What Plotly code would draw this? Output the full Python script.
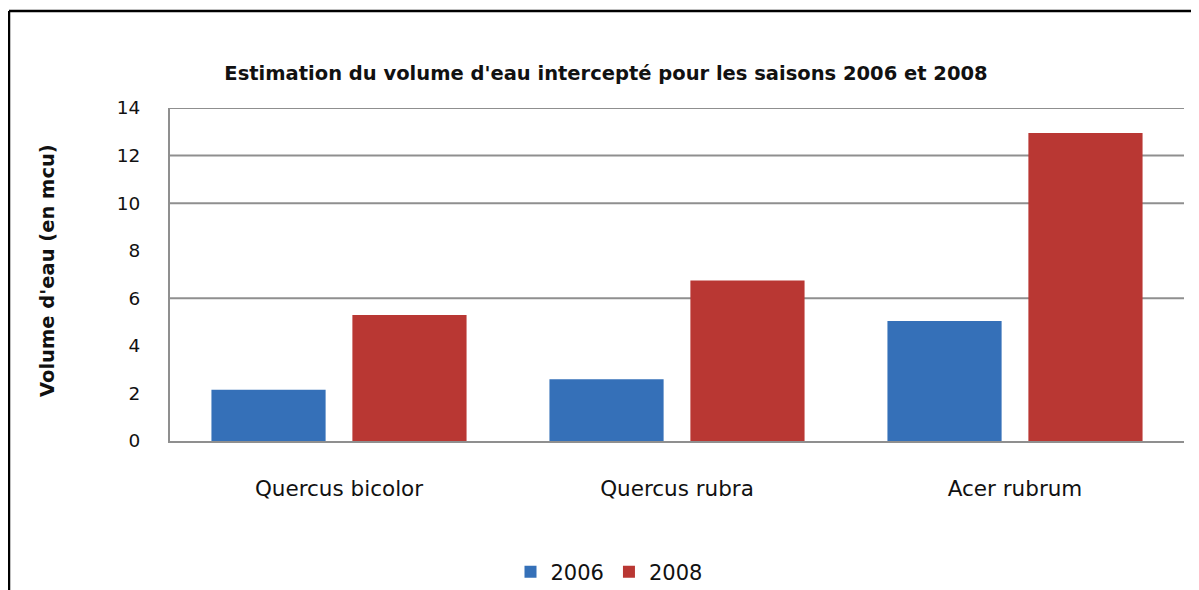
import plotly.graph_objects as go

categories = ["Quercus bicolor", "Quercus rubra", "Acer rubrum"]
values_2006 = [2.15, 2.6, 5.05]
values_2008 = [5.3, 6.75, 12.95]
series_names = ["2006", "2008"]
y_ticks = [0, 2, 4, 6, 8, 10, 12, 14]
visible_grid = [6, 10, 12, 14]

FONT = "DejaVu Sans, Verdana, sans-serif"
BLUE = "#3570b8"
RED = "#b93733"

# page body has an 8px margin; figure is sized/positioned to compensate
W, H = 1191, 582
L, R, T, B = 162, 15, 100, 149
PW = W - L - R
PH = H - T - B

fig = go.Figure()
fig.add_trace(go.Bar(x=categories, y=values_2006, name=series_names[0],
                     marker=dict(color=BLUE, line=dict(width=0))))
fig.add_trace(go.Bar(x=categories, y=values_2008, name=series_names[1],
                     marker=dict(color=RED, line=dict(width=0))))

for g in visible_grid:
    fig.add_shape(type="line", xref="paper", yref="y", x0=0, x1=1, y0=g, y1=g,
                  line=dict(color="#8f8f8f", width=2), layer="below")

def px(xf):
    return (xf - L) / PW

def py(yf):
    return (T + PH - yf) / PH

fig.add_shape(type="line", xref="paper", yref="paper",
              x0=px(1), x1=px(W + 10), y0=py(3), y1=py(3),
              line=dict(color="black", width=2.5))
fig.add_shape(type="line", xref="paper", yref="paper",
              x0=px(1), x1=px(1), y0=py(3), y1=py(H + 20),
              line=dict(color="black", width=2.5))

fig.add_annotation(text="<b>Volume d'eau (en mcu)</b>", textangle=-90,
                   xref="paper", yref="paper",
                   x=px(39), y=py(263),
                   xanchor="center", yanchor="middle", showarrow=False,
                   font=dict(family=FONT, size=19.5, color="#111111"))

fig.update_layout(
    width=W, height=H,
    margin=dict(l=L, r=R, t=T, b=B, autoexpand=False),
    paper_bgcolor="white", plot_bgcolor="white",
    title=dict(text="<b>Estimation du volume d'eau intercepté pour les saisons 2006 et 2008</b>",
               x=598 / W, xanchor="center", y=1 - 65 / H, yanchor="middle",
               font=dict(family=FONT, size=19.5, color="#111111")),
    bargap=0.166, bargroupgap=0.19,
    showlegend=True,
    legend=dict(orientation="h", xref="container", yref="container",
                x=601 / W, xanchor="center",
                y=1 - 564 / H, yanchor="middle",
                font=dict(family=FONT, size=21, color="#111111"),
                itemwidth=30, traceorder="normal"),
    font=dict(family=FONT),
)
fig.update_xaxes(showgrid=False, showline=True, linecolor="#8f8f8f", linewidth=2,
                 ticks="", ticklabelstandoff=27,
                 tickfont=dict(family=FONT, size=21.5, color="#111111"))
fig.update_yaxes(range=[0, 14], tickvals=y_ticks, showgrid=False,
                 showline=True, linecolor="#8f8f8f", linewidth=2,
                 ticks="", ticklabelstandoff=24, zeroline=False,
                 tickfont=dict(family=FONT, size=18.5, color="#111111"))

fig.write_html("out.html")
